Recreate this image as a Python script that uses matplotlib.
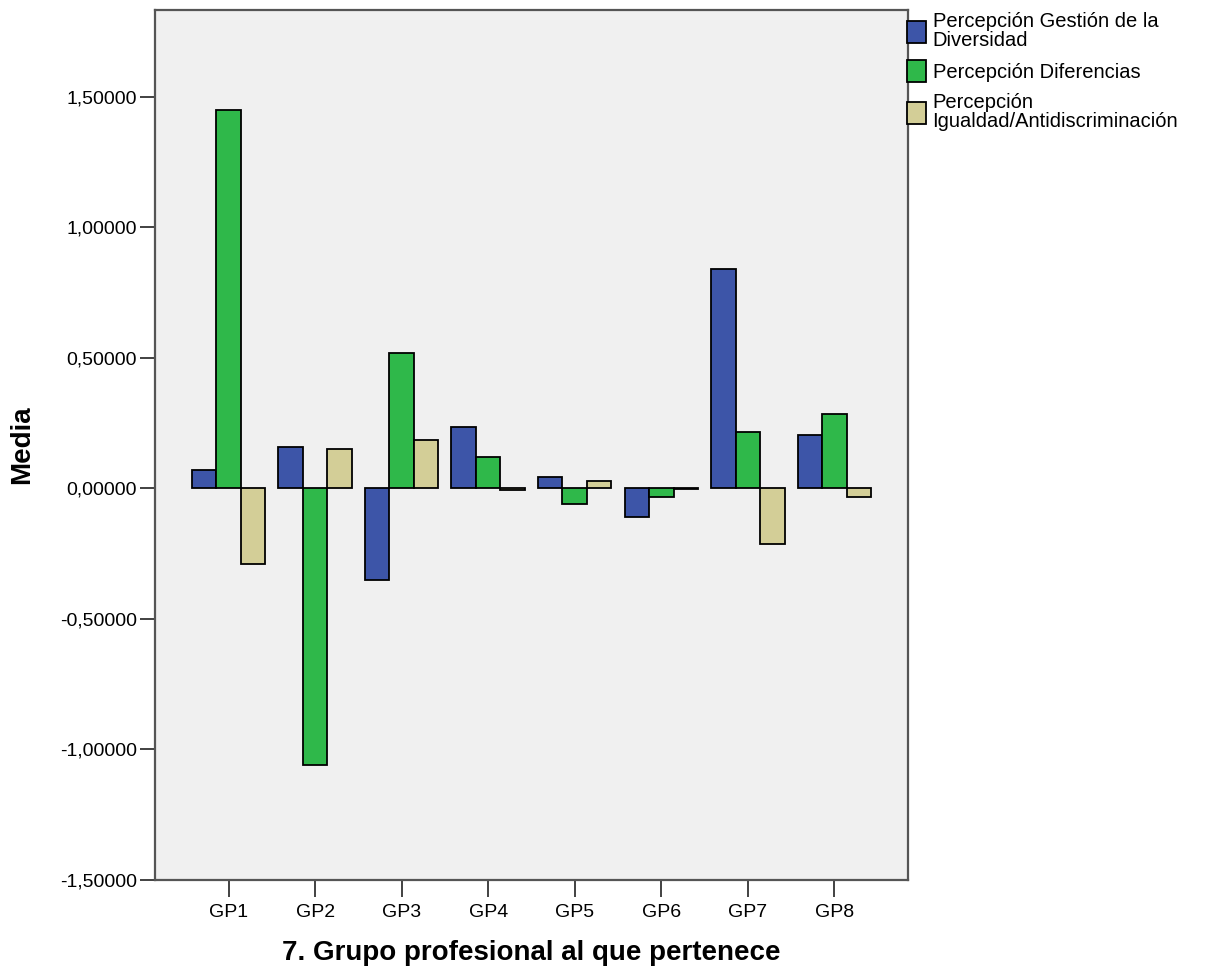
import numpy as np
import matplotlib.pyplot as plt
from matplotlib.patches import Patch
from matplotlib.ticker import FuncFormatter

plt.rcParams['font.family'] = ['Liberation Sans', 'DejaVu Sans']

grupos = ["GP1", "GP2", "GP3", "GP4", "GP5", "GP6", "GP7", "GP8"]
series = [
    "Percepción Gestión de la\nDiversidad",
    "Percepción Diferencias",
    "Percepción\nIgualdad/Antidiscriminación",
]
gestion = [0.070, 0.159, -0.353, 0.234, 0.044, -0.109, 0.840, 0.204]
diferencias = [1.449, -1.060, 0.518, 0.121, -0.060, -0.032, 0.215, 0.285]
igualdad = [-0.290, 0.150, 0.185, -0.005, 0.029, -0.002, -0.213, -0.032]
colores = ["#3D55A8", "#2FB84A", "#D3CE97"]

fig = plt.figure(figsize=(12.05, 9.72), dpi=100)
ax = fig.add_axes([0.1286, 0.0947, 0.6249, 0.895])
ax.set_facecolor("#F0F0F0")

x = np.arange(len(grupos))
w = 0.283
for i, vals in enumerate([gestion, diferencias, igualdad]):
    ax.bar(x + (i - 1) * w, vals, width=w, color=colores[i],
           edgecolor="black", linewidth=1.3, zorder=3)

ax.set_xlim(-0.85, 7.85)
ax.set_ylim(-1.5, 1.832)
ax.set_yticks([-1.5, -1.0, -0.5, 0.0, 0.5, 1.0, 1.5])
ax.yaxis.set_major_formatter(FuncFormatter(lambda v, p: f"{v:.5f}".replace(".", ",")))
ax.set_xticks(x)
ax.set_xticklabels(grupos)
ax.tick_params(axis="both", labelsize=14, length=11, width=1.3, color="#333333", pad=2)
ax.tick_params(axis="x", length=12, pad=5)

for s in ax.spines.values():
    s.set_color("#555555")
    s.set_linewidth(1.6)

ax.set_ylabel("Media", fontsize=20, fontweight="bold", labelpad=18)
ax.set_xlabel("7. Grupo profesional al que pertenece", fontsize=20,
              fontweight="bold", labelpad=14)

handles = [Patch(facecolor=c, edgecolor="black", linewidth=1.3) for c in colores]
leg = fig.legend(handles, series, loc="upper left", bbox_to_anchor=(0.753, 0.988),
                 frameon=False, fontsize=14.5, handlelength=0.95, handleheight=1.3,
                 handletextpad=0.3, labelspacing=0.5, borderaxespad=0, borderpad=0)
for t in leg.get_texts():
    t.set_linespacing(1.05)

fig.savefig("out.png", dpi=100)
